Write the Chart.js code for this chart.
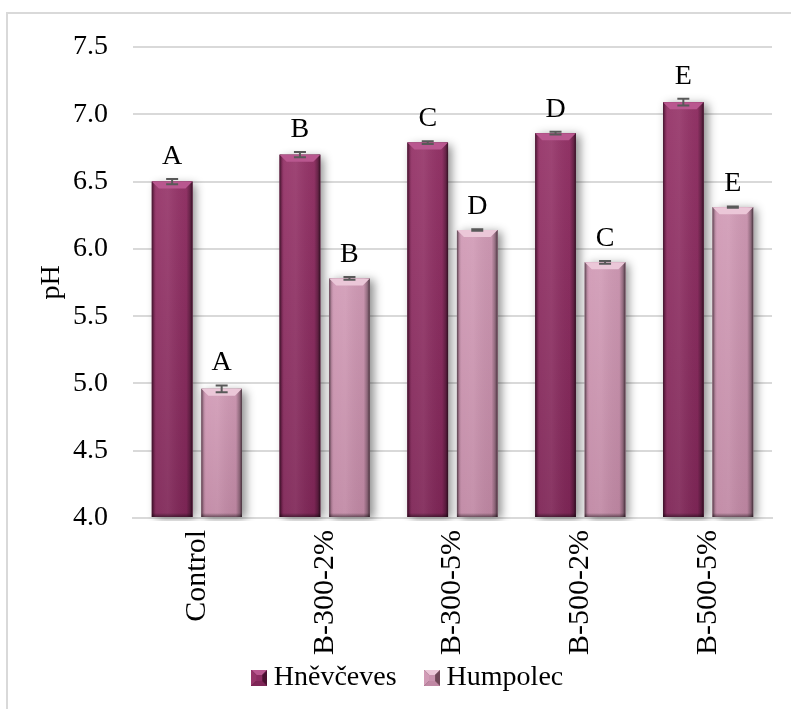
<!DOCTYPE html>
<html>
<head>
<meta charset="utf-8">
<title>pH of soil variants</title>
<script src="https://cdn.jsdelivr.net/npm/chart.js@4/dist/chart.umd.min.js"></script>
<style>
  html, body { margin: 0; padding: 0; background: #fff; overflow: hidden; }
  #wrap { position: relative; width: 791px; height: 709px; overflow: hidden; }
  #frame { position: absolute; left: 6px; top: 12px; width: 1000px; height: 1000px;
           border: 2px solid #d9d9d9; box-sizing: border-box; }
  #chart { position: absolute; left: 0; top: 0; }
</style>
</head>
<body>
<div id="wrap">
  <div id="frame"></div>
  <canvas id="chart" width="791" height="709"></canvas>
</div>
<script>
// Treatments and measured pH (mean ± SD) with the significance letters
const categories = ['Control', 'B-300-2%', 'B-300-5%', 'B-500-2%', 'B-500-5%'];
const seriesNames = ['Hněvčeves', 'Humpolec'];

const hnevceves = [6.50, 6.70, 6.79, 6.86, 7.09];
const hnevcevesErr = [0.02, 0.02, 0.01, 0.01, 0.025];
const hnevcevesLetters = ['A', 'B', 'C', 'D', 'E'];

const humpolec = [4.96, 5.78, 6.14, 5.90, 6.31];
const humpolecErr = [0.025, 0.01, 0.005, 0.01, 0.005];
const humpolecLetters = ['A', 'B', 'D', 'C', 'E'];

const yMin = 4.0, yMax = 7.5, yStep = 0.5;

const FONT = "'Liberation Serif', 'Times New Roman', serif";
const FSIZE = 28;
Chart.defaults.font.family = FONT;
Chart.defaults.font.size = FSIZE;
Chart.defaults.color = '#000';

// Bar colour sets: body gradient, bevel, edge
const palettes = [
  { top: '#963569', bottom: '#7f2657', bevel: '#b9578f', edge: '#4a1030', mid: '#8c2d62' },
  { top: '#d19bb6', bottom: '#c088a4', bevel: '#ebc7d8', edge: '#6e4657', mid: '#c892ad' }
];

// Small bevelled squares for the legend
function makeIcon(p) {
  const s = 16;
  const c = document.createElement('canvas');
  c.width = s; c.height = s;
  const g = c.getContext('2d');
  const poly = (pts, col) => {
    g.beginPath(); g.moveTo(pts[0][0], pts[0][1]);
    for (let i = 1; i < pts.length; i++) g.lineTo(pts[i][0], pts[i][1]);
    g.closePath(); g.fillStyle = col; g.fill();
  };
  g.fillStyle = p.edge; g.fillRect(0, 0, s, s);
  poly([[0, 0], [s, 0], [s - 5, 5], [5, 5]], p.bevel);
  poly([[0, 0], [5, 5], [5, s - 5], [0, s]], p.top);
  poly([[s, 0], [s - 5, 5], [s - 5, s - 5], [s, s]], p.edge);
  poly([[0, s], [5, s - 5], [s - 5, s - 5], [s, s]], p.bottom);
  g.fillStyle = p.mid; g.fillRect(5, 5, s - 10, s - 10);
  return c;
}
const legendIcons = palettes.map(makeIcon);

function paintBar(ctx, x, y, base, w, p) {
  const l = x - w / 2, r = x + w / 2, h = base - y;
  let g = ctx.createLinearGradient(0, y, 0, base);
  g.addColorStop(0, p.top);
  g.addColorStop(1, p.bottom);
  ctx.fillStyle = g;
  ctx.fillRect(l, y, w, h);

  g = ctx.createLinearGradient(l, 0, r, 0);
  g.addColorStop(0, 'rgba(0,0,0,0.55)');
  g.addColorStop(0.06, 'rgba(0,0,0,0.12)');
  g.addColorStop(0.12, 'rgba(255,255,255,0.05)');
  g.addColorStop(0.4, 'rgba(255,255,255,0.08)');
  g.addColorStop(0.85, 'rgba(0,0,0,0.04)');
  g.addColorStop(0.94, 'rgba(0,0,0,0.3)');
  g.addColorStop(1, 'rgba(0,0,0,0.65)');
  ctx.fillStyle = g;
  ctx.fillRect(l, y, w, h);

  const b = Math.min(7, h / 2);
  ctx.beginPath();
  ctx.moveTo(l, y); ctx.lineTo(r, y); ctx.lineTo(r - b, y + b); ctx.lineTo(l + b, y + b);
  ctx.closePath();
  ctx.fillStyle = p.bevel;
  ctx.fill();

  g = ctx.createLinearGradient(0, base - 4, 0, base);
  g.addColorStop(0, 'rgba(0,0,0,0)');
  g.addColorStop(1, 'rgba(0,0,0,0.45)');
  ctx.fillStyle = g;
  ctx.fillRect(l, base - 4, w, 4);
}

const errors = [hnevcevesErr, humpolecErr];
const letters = [hnevcevesLetters, humpolecLetters];

const barDecor = {
  id: 'barDecor',
  beforeDatasetsDraw(chart) {
    const ctx = chart.ctx;
    const a = chart.chartArea;
    ctx.save();
    ctx.beginPath();
    ctx.rect(a.left, 0, a.right - a.left + 20, a.bottom + 3);
    ctx.clip();
    chart.data.datasets.forEach((ds, i) => {
      chart.getDatasetMeta(i).data.forEach(bar => {
        const { x, y, base, width } = bar.getProps(['x', 'y', 'base', 'width'], true);
        ctx.save();
        ctx.shadowColor = 'rgba(0,0,0,0.45)';
        ctx.shadowBlur = 9;
        ctx.shadowOffsetX = 4;
        ctx.shadowOffsetY = 2;
        ctx.fillStyle = '#777';
        ctx.fillRect(x - width / 2, y, width, base - y);
        ctx.restore();
      });
    });
    ctx.restore();
  },
  afterDatasetsDraw(chart) {
    const ctx = chart.ctx;
    const ys = chart.scales.y;
    chart.data.datasets.forEach((ds, i) => {
      chart.getDatasetMeta(i).data.forEach((bar, j) => {
        const { x, y, base, width } = bar.getProps(['x', 'y', 'base', 'width'], true);
        ctx.save();
        paintBar(ctx, x, y, base, width, palettes[i]);

        const v = ds.data[j], e = errors[i][j];
        const yHi = ys.getPixelForValue(v + e), yLo = ys.getPixelForValue(v - e);
        ctx.strokeStyle = '#595959';
        ctx.lineWidth = 2;
        ctx.beginPath();
        ctx.moveTo(x, yHi); ctx.lineTo(x, yLo);
        ctx.moveTo(x - 6, yHi); ctx.lineTo(x + 6, yHi);
        ctx.moveTo(x - 6, yLo); ctx.lineTo(x + 6, yLo);
        ctx.stroke();

        ctx.fillStyle = '#000';
        ctx.font = FSIZE + 'px ' + FONT;
        ctx.textAlign = 'center';
        ctx.textBaseline = 'alphabetic';
        ctx.fillText(letters[i][j], x, yHi - 15);
        ctx.restore();
      });
    });
  }
};

// The long rotated category labels run down beside the legend row:
// let the x-axis label area reach the bottom edge and nudge the legend.
const legendPlace = {
  id: 'legendPlace',
  afterLayout(chart) {
    const xs = chart.scales.x;
    xs.bottom = chart.height;
    xs.height = xs.bottom - xs.top;
    const lg = chart.legend;
    if (!lg) return;
    lg.left += 9; lg.right += 9;
    lg.top -= 7; lg.bottom -= 7;
  }
};

new Chart(document.getElementById('chart'), {
  type: 'bar',
  data: {
    labels: categories,
    datasets: [
      { label: seriesNames[0], data: hnevceves, base: yMin, backgroundColor: palettes[0].mid, borderWidth: 0 },
      { label: seriesNames[1], data: humpolec, base: yMin, backgroundColor: palettes[1].mid, borderWidth: 0 }
    ]
  },
  options: {
    responsive: false,
    animation: false,
    events: [],
    categoryPercentage: 0.775,
    barPercentage: 0.82,
    layout: { padding: { top: 47, left: 32, right: 19, bottom: 0 } },
    scales: {
      x: {
        grid: { display: false, drawTicks: false },
        border: { display: true, color: '#d9d9d9', width: 2 },
        ticks: {
          color: '#000',
          font: { family: FONT, size: 30 },
          minRotation: 90, maxRotation: 90,
          padding: 12
        },
        afterFit(scale) { scale.height = 118; }
      },
      y: {
        min: yMin, max: yMax,
        grid: { color: '#d9d9d9', lineWidth: 2, drawTicks: false },
        border: { display: false },
        ticks: {
          stepSize: yStep,
          color: '#000',
          font: { family: FONT, size: FSIZE },
          padding: 25,
          callback: v => Number(v).toFixed(1)
        },
        title: {
          display: true, text: 'pH', color: '#000',
          font: { family: FONT, size: FSIZE },
          padding: { top: 3, bottom: 0 }
        },
        afterFit(scale) { scale.width = 101; }
      }
    },
    plugins: {
      tooltip: { enabled: false },
      legend: {
        position: 'bottom',
        labels: {
          usePointStyle: true,
          pointStyleWidth: 1,
          color: '#000',
          font: { family: FONT, size: FSIZE },
          padding: 35,
          generateLabels(chart) {
            const items = Chart.defaults.plugins.legend.labels.generateLabels(chart);
            items.forEach((it, i) => { it.pointStyle = legendIcons[i]; });
            return items;
          }
        }
      }
    }
  },
  plugins: [barDecor, legendPlace]
});
</script>
</body>
</html>
